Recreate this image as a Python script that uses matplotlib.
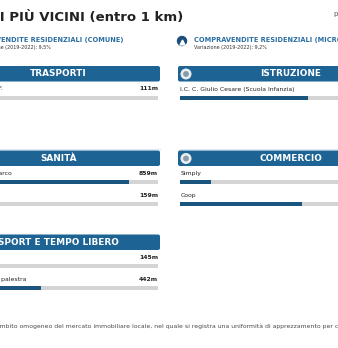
import matplotlib.pyplot as plt
from matplotlib.patches import FancyBboxPatch, Circle

# dati (distanze in metri, scala barra = 1 km)
trasporti_nomi = ['Stazione FF.SS. F.']
trasporti_dist = [111]
sanita_nomi = ['Farmacia San Marco', 'Ospedale']
sanita_dist = [859, 159]
sport_nomi = ['Parco giochi', 'Centro fitness e palestra']
sport_dist = [145, 442]
istruzione_nomi = ['I.C. C. Giulio Cesare (Scuola Infanzia)']
istruzione_dist = [612]
commercio_nomi = ['Simply', 'Coop']
commercio_dist = [148, 584]
max_dist = 1000

BLU = '#1d6394'
BLU_BARRA = '#19557f'
GRIGIO = '#d4d4d4'

fig = plt.figure(figsize=(3.38, 3.48), dpi=100)
ax = fig.add_axes([0, 0, 1, 1])
ax.set_xlim(0, 338)
ax.set_ylim(348, 0)
ax.axis('off')

# titolo
ax.text(-54, 18, 'SERVIZI PIÙ VICINI (entro 1 km)', fontsize=9.5, fontweight='bold',
        va='center', ha='left', color='#222222')
ax.text(333, 14, 'p', fontsize=5, va='center', ha='left', color='#555555')

# sottotitoli
ax.text(-36, 40, 'COMPRAVENDITE RESIDENZIALI (COMUNE)', fontsize=4.8, fontweight='bold',
        color='#2b6ea3', va='center')
ax.text(-22, 48, 'Variazione (2019-2022): 9,5%', fontsize=3.5, color='#333333', va='center')
ax.add_patch(Circle((182, 41), 4.5, color='#1b4f7a'))
ax.plot([182], [41.5], marker='^', color='white', markersize=3.5)
ax.text(194, 40, 'COMPRAVENDITE RESIDENZIALI (MICROZONA)', fontsize=4.8, fontweight='bold',
        color='#2b6ea3', va='center')
ax.text(194, 48, 'Variazione (2019-2022): 9,2%', fontsize=3.5, color='#333333', va='center')

track_w = 209


def pannello(x0, y0, titolo, tx, nomi, dist, icona=False):
    ax.add_patch(FancyBboxPatch((x0, y0), 213, 15.5, boxstyle='round,pad=0,rounding_size=2',
                                color=BLU, lw=0))
    ax.text(tx, y0 + 8, titolo, fontsize=6.4, fontweight='bold', color='white',
            ha='center', va='center')
    if icona:
        ax.add_patch(Circle((x0 + 8, y0 + 8), 4.8, color='#e9eef2'))
        ax.add_patch(Circle((x0 + 8, y0 + 8), 2.2, color='#8a9aa8'))
    for i, (n, d) in enumerate(zip(nomi, dist)):
        yl = y0 + 23 + i * 22
        yb = yl + 8.5
        ax.text(x0 + 2.5, yl, n, fontsize=4.4, color='#222222', va='center')
        ax.text(x0 + 2 + track_w, yl, f'{d}m', fontsize=4.4, fontweight='bold',
                color='#222222', va='center', ha='right')
        ax.barh(yb, track_w, left=x0 + 2, height=4, color=GRIGIO, lw=0)
        ax.barh(yb, d / max_dist * track_w, left=x0 + 2, height=4, color=BLU_BARRA, lw=0)


pannello(-53, 66, 'TRASPORTI', 58, trasporti_nomi, trasporti_dist)
pannello(-53, 150.5, 'SANITÀ', 59, sanita_nomi, sanita_dist)
pannello(-53, 234.5, 'SPORT E TEMPO LIBERO', 58, sport_nomi, sport_dist)
pannello(178, 66, 'ISTRUZIONE', 291, istruzione_nomi, istruzione_dist, icona=True)
pannello(178, 150.5, 'COMMERCIO', 291, commercio_nomi, commercio_dist, icona=True)

# separatori
ax.plot([0, 160], [149, 149], color='#dbe9f3', lw=0.8)
ax.plot([180, 338], [149, 149], color='#dbe9f3', lw=0.8)

# nota
ax.text(-63, 326, "L'OMI individua un ambito omogeneo del mercato immobiliare locale, nel quale si "
        "registra una uniformità di apprezzamento per condizioni economiche e socio-ambientali.",
        fontsize=4.45, color='#4a4a4a', va='center', ha='left')

fig.savefig('out.png', dpi=100)
